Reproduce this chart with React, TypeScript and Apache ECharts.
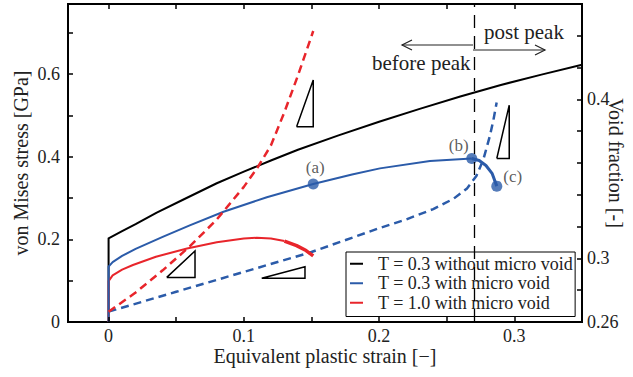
import React, { useEffect, useRef } from 'react';
import * as echarts from 'echarts';

const FONT = '"Liberation Serif", "Times New Roman", serif';
const TXT = '#222';
const BLACK = '#000000';
const BLUE = '#2b5ba9';
const RED = '#e8252b';

const seriesNames = ['T = 0.3 without micro void', 'T = 0.3 with micro void', 'T = 1.0 with micro void'];

// T = 0.3 without micro void (stress, GPa)
const blackStrain = [0, 0, 0.01, 0.02, 0.0356, 0.055, 0.08, 0.1, 0.12, 0.14, 0.17, 0.2, 0.23, 0.26, 0.29, 0.32, 0.35];
const blackStress = [0, 0.2025, 0.22, 0.237, 0.265, 0.296, 0.336, 0.364, 0.391, 0.417, 0.452, 0.485, 0.516, 0.546, 0.574, 0.599, 0.623];

// T = 0.3 with micro void (stress, GPa), up to the peak
const blueStrain = [0, 0, 0.003, 0.01, 0.02, 0.04, 0.06, 0.085, 0.117, 0.1513, 0.18, 0.2006, 0.2376, 0.2685];
const blueStress = [0, 0.134, 0.145, 0.16, 0.177, 0.206, 0.234, 0.267, 0.302, 0.334, 0.357, 0.372, 0.39, 0.396];
// post peak
const bluePostStrain = [0.2685, 0.274, 0.279, 0.2835, 0.287];
const bluePostStress = [0.396, 0.391, 0.379, 0.36, 0.329];

// T = 1.0 with micro void (stress, GPa)
const redStrain = [0, 0, 0.003, 0.01, 0.018, 0.035, 0.058, 0.08, 0.1, 0.1095, 0.12, 0.13];
const redStress = [0, 0.099, 0.113, 0.127, 0.138, 0.158, 0.178, 0.193, 0.202, 0.204, 0.202, 0.196];
const redEndStrain = [0.13, 0.139, 0.146, 0.1513];
const redEndStress = [0.196, 0.185, 0.173, 0.16];

// Void fraction curves (right axis)
const blueVoidStrain = [0, 0.05, 0.1, 0.15, 0.2, 0.22, 0.24, 0.255, 0.265, 0.272, 0.277, 0.2819, 0.2845, 0.2869];
const blueVoid = [0.2665, 0.279, 0.2915, 0.304, 0.319, 0.3245, 0.331, 0.3375, 0.344, 0.352, 0.362, 0.377, 0.387, 0.398];
const redVoidStrain = [0, 0.02, 0.04, 0.06, 0.08, 0.1, 0.11, 0.12, 0.13, 0.14, 0.1513];
const redVoid = [0.2665, 0.2785, 0.2925, 0.3075, 0.3245, 0.345, 0.357, 0.371, 0.392, 0.415, 0.443];

// Marked states
const markerStrain = [0.1513, 0.2685, 0.287];
const markerStress = [0.334, 0.396, 0.329];
const markerLabels = ['(a)', '(b)', '(c)'];
const markerOffsets = [[2, 2], [-13, 6], [16, 9]];

const peakStrain = 0.269;

// slope triangles (strain, stress)
const triangles = [
  [[0.139, 0.473], [0.1513, 0.473], [0.1513, 0.586], [0.139, 0.473]],
  [[0.287, 0.396], [0.2962, 0.396], [0.2962, 0.525], [0.287, 0.396]],
  [[0.043, 0.108], [0.0639, 0.108], [0.0639, 0.172], [0.043, 0.108]],
  [[0.1132, 0.1058], [0.1452, 0.1058], [0.1452, 0.1339], [0.1132, 0.1058]],
];

// axes
const X_MIN = -0.03, X_MAX = 0.35;
const Y_MIN = 0, Y_MAX = 0.77;
const V_MIN = 0.26, V_MAX = 0.46;
const xTicks = [0, 0.05, 0.1, 0.15, 0.2, 0.25, 0.3, 0.35];
const xLabels = [0, 0.1, 0.2, 0.3];
const yTicks = [0, 0.1, 0.2, 0.3, 0.4, 0.5, 0.6, 0.7];
const yLabels = [0, 0.2, 0.4, 0.6];
const vTicks = [0.26, 0.28, 0.3, 0.32, 0.34, 0.36, 0.38, 0.4, 0.42, 0.44, 0.46];
const vLabels = [0.26, 0.3, 0.4];

const zip = (a: number[], b: number[]) => a.map((v, i) => [v, b[i]]);

// plot area size (grid) and tick length in pixels, to express tick length in axis units
const PLOT_W = 514;
const PLOT_H = 318;
const TICK_PX = 5;
const dx = ((X_MAX - X_MIN) * TICK_PX) / PLOT_W;
const dy = ((Y_MAX - Y_MIN) * TICK_PX) / PLOT_H;
const dv = ((V_MAX - V_MIN) * TICK_PX) / PLOT_H;

export default function App() {
  const ref = useRef<HTMLDivElement>(null);
  useEffect(() => {
    if (!ref.current) return;
    const chart = echarts.init(ref.current, null, { renderer: 'svg' });
    const axisLine = () => ({ show: true, onZero: false, lineStyle: { color: BLACK, width: 2 } });
    const labelStyle = { fontFamily: FONT, fontSize: 18, color: TXT };
    const lineSeries = (name: string, data: number[][], color: string, width: number, yIdx = 0, type: any = 'solid') => ({
      name,
      type: 'line',
      xAxisIndex: 0,
      yAxisIndex: yIdx,
      data,
      symbol: 'none',
      showSymbol: false,
      silent: true,
      smooth: false,
      lineStyle: { color, width, type, cap: 'butt', join: 'round' },
      itemStyle: { color },
    });
    const triSeries = triangles.map((t, i) => ({
      ...lineSeries('tri' + i, t, BLACK, 1.5),
      lineStyle: { color: BLACK, width: 1.5, join: 'miter' },
    }));

    const seg = (a: number[], b: number[]) => [{ coord: a }, { coord: b }];
    const stressTicks: any[] = [];
    xTicks.forEach((v) => {
      stressTicks.push(seg([v, Y_MIN], [v, Y_MIN + dy]));
      stressTicks.push(seg([v, Y_MAX], [v, Y_MAX - dy]));
    });
    yTicks.forEach((v) => stressTicks.push(seg([X_MIN, v], [X_MIN + dx, v])));
    const voidTicks = vTicks.map((v) => seg([X_MAX, v], [X_MAX - dx, v]));
    const tickMarkLine = (data: any[]) => ({
      silent: true,
      symbol: ['none', 'none'],
      label: { show: false },
      lineStyle: { color: BLACK, width: 1.5, type: 'solid' },
      data,
    });

    const option: any = {
      animation: false,
      backgroundColor: '#fff',
      grid: {
        left: 68, right: 51, top: 4, bottom: 55, containLabel: false, outerBoundsMode: 'none',
        show: true, borderColor: BLACK, borderWidth: 2, backgroundColor: 'transparent',
      },
      legend: {
        data: seriesNames,
        orient: 'vertical',
        left: 346,
        top: 252,
        backgroundColor: '#fff',
        borderColor: BLACK,
        borderWidth: 1,
        borderRadius: 0,
        padding: [2, 2, 4, 4],
        itemWidth: 13,
        itemHeight: 2,
        itemGap: 0,
        icon: 'rect',
        selectedMode: false,
        textStyle: { fontFamily: FONT, fontSize: 18, color: TXT, lineHeight: 19.5, padding: [0, 0, 0, 10] },
      },
      xAxis: [
        {
          type: 'value',
          min: X_MIN,
          max: X_MAX,
          position: 'bottom',
          name: 'Equivalent plastic strain [\u2212]',
          nameLocation: 'middle',
          nameGap: 24,
          nameMoveOverlap: false,
          nameTextStyle: { fontFamily: FONT, fontSize: 20, color: TXT },
          axisLine: axisLine(),
          axisTick: { show: false },
          axisLabel: { ...labelStyle, margin: 5, customValues: xLabels, formatter: (v: number) => String(v) },
          splitLine: { show: false },
        },
        {
          type: 'value',
          min: X_MIN,
          max: X_MAX,
          position: 'top',
          axisLine: axisLine(),
          axisTick: { show: false },
          axisLabel: { show: false },
          splitLine: { show: false },
        },
      ],
      yAxis: [
        {
          type: 'value',
          min: Y_MIN,
          max: Y_MAX,
          position: 'left',
          name: 'von Mises stress [GPa]',
          nameLocation: 'middle',
          nameRotate: 90,
          nameGap: 37,
          nameMoveOverlap: false,
          nameTextStyle: { fontFamily: FONT, fontSize: 20, color: TXT },
          axisLine: axisLine(),
          axisTick: { show: false },
          axisLabel: { ...labelStyle, margin: 8, customValues: yLabels, formatter: (v: number) => String(v) },
          splitLine: { show: false },
        },
        {
          type: 'value',
          min: V_MIN,
          max: V_MAX,
          position: 'right',
          name: 'Void fraction [-]',
          nameLocation: 'middle',
          nameRotate: -90,
          nameGap: 24,
          nameMoveOverlap: false,
          nameTextStyle: { fontFamily: FONT, fontSize: 20, color: TXT },
          axisLine: axisLine(),
          axisTick: { show: false },
          axisLabel: { ...labelStyle, margin: 5, customValues: vLabels, formatter: (v: number) => String(v) },
          splitLine: { show: false },
        },
      ],
      series: [
        ...triSeries,
        {
          ...lineSeries(seriesNames[0], zip(blackStrain, blackStress), BLACK, 2),
          markLine: {
            silent: true,
            symbol: ['none', 'none'],
            label: { show: false },
            lineStyle: { color: BLACK, width: 1.3, type: [13, 8] },
            data: [{ xAxis: peakStrain }],
          },
        },
        {
          ...lineSeries('blueVoid', zip(blueVoidStrain, blueVoid), BLUE, 2.5, 1, [8, 5]),
          markLine: tickMarkLine(voidTicks),
        },
        lineSeries(seriesNames[2], zip(redStrain, redStress), RED, 2),
        {
          ...lineSeries('redEnd', zip(redEndStrain, redEndStress), RED, 3.5),
          markLine: tickMarkLine(stressTicks),
        },
        lineSeries(seriesNames[1], zip(blueStrain, blueStress), BLUE, 2),
        lineSeries('bluePost', zip(bluePostStrain, bluePostStress), BLUE, 3),
        lineSeries('redVoid', zip(redVoidStrain, redVoid), RED, 2.5, 1, [8, 5]),
        {
          name: 'markers',
          type: 'scatter',
          xAxisIndex: 0,
          yAxisIndex: 0,
          silent: true,
          symbol: 'circle',
          symbolSize: 11,
          itemStyle: { color: BLUE },
          data: markerStrain.map((x, i) => ({
            value: [x, markerStress[i]],
            label: {
              show: true,
              position: 'top',
              offset: markerOffsets[i],
              formatter: markerLabels[i],
              fontFamily: FONT,
              fontSize: 17,
              color: '#333',
            },
          })),
        },
      ],
      graphic: [
        { type: 'line', shape: { x1: 402, y1: 45, x2: 473, y2: 45 }, style: { stroke: '#222', lineWidth: 1.2 } },
        { type: 'polyline', shape: { points: [[412, 40], [402, 45], [412, 50]] }, style: { stroke: '#222', lineWidth: 1.2, fill: null } },
        { type: 'line', shape: { x1: 473, y1: 50, x2: 545, y2: 50 }, style: { stroke: '#222', lineWidth: 1.2 } },
        { type: 'polyline', shape: { points: [[535, 45], [545, 50], [535, 55]] }, style: { stroke: '#222', lineWidth: 1.2, fill: null } },
        { type: 'text', x: 372, y: 63, style: { text: 'before peak', font: '21px ' + FONT, fill: TXT, verticalAlign: 'middle' } },
        { type: 'text', x: 484, y: 32, style: { text: 'post peak', font: '21px ' + FONT, fill: TXT, verticalAlign: 'middle' } },
      ],
    };
    chart.setOption(option);
    return () => chart.dispose();
  }, []);
  return (
    <div
      ref={ref}
      style={{ position: 'fixed', left: 0, top: 0, width: 633, height: 377, background: '#fff' }}
    />
  );
}
